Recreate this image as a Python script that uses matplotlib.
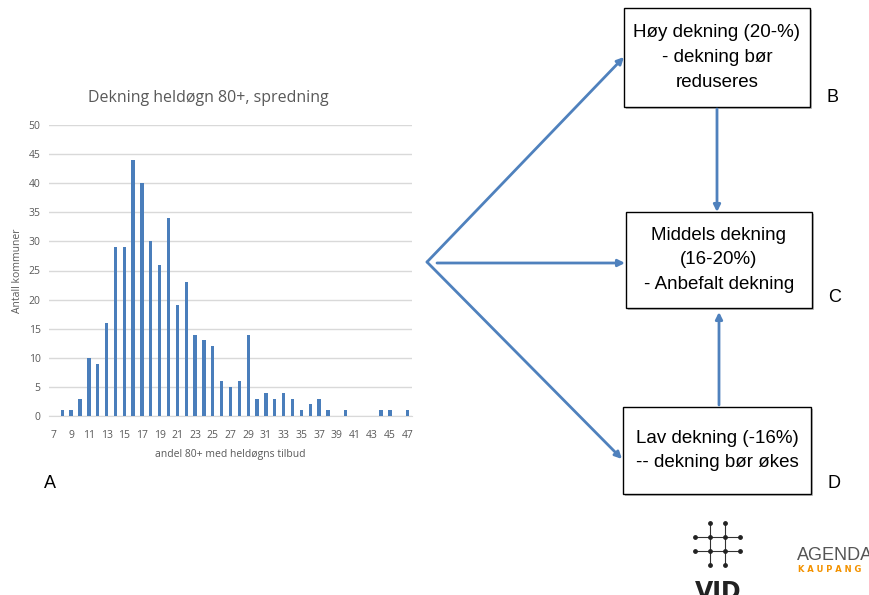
import numpy as np
import matplotlib.pyplot as plt
from matplotlib.patches import Rectangle, FancyArrowPatch

# data: andel 80+ med heldøgns tilbud (%) -> antall kommuner
andel = list(range(7, 48))
antall = [0, 1, 1, 3, 10, 9, 16, 29, 29, 44, 40, 30, 26, 34, 19, 23, 14, 13, 12, 6,
          5, 6, 14, 3, 4, 3, 4, 3, 1, 2, 3, 1, 0, 1, 0, 0, 0, 1, 1, 0, 1]
tick_labels = [str(v) for v in range(7, 48, 2)]

boks_tekst = {
    'B': 'Høy dekning (20-%)\n- dekning bør\nreduseres',
    'C': 'Middels dekning\n(16-20%)\n- Anbefalt dekning',
    'D': 'Lav dekning (-16%)\n-- dekning bør økes',
}

W, H = 870, 595
fig = plt.figure(figsize=(W / 100, H / 100), dpi=100)

# bakgrunn / tegneflate i pikselkoordinater
bg = fig.add_axes([0, 0, 1, 1])
bg.set_xlim(0, W)
bg.set_ylim(H, 0)
bg.axis('off')

# histogram
ax = fig.add_axes([49 / W, (H - 416) / H, 363 / W, 291 / H])
ax.bar(andel, antall, width=0.38, color='#4a7ebb', zorder=3)
ax.set_xlim(6.5, 47.5)
ax.set_ylim(0, 50)
ax.set_yticks(range(0, 51, 5))
ax.set_xticks(range(7, 48, 2))
ax.set_xticklabels(tick_labels)
ax.grid(axis='y', color='#d9d9d9', lw=1, zorder=0)
for s in ['top', 'right', 'left']:
    ax.spines[s].set_visible(False)
ax.spines['bottom'].set_color('#d9d9d9')
ax.tick_params(length=0, labelsize=7.5, colors='#595959')
ax.tick_params(axis='x', pad=10)
ax.tick_params(axis='y', pad=6)
for t in ax.get_xticklabels() + ax.get_yticklabels():
    t.set_family('Open Sans')
bg.text(208, 98, 'Dekning heldøgn 80+, spredning', fontsize=11.5, color='#595959',
        family='Open Sans', ha='center', va='center')
ax.set_xlabel('andel 80+ med heldøgns tilbud', fontsize=7.5, color='#595959',
              family='Open Sans', labelpad=6)
ax.set_ylabel('Antall kommuner', fontsize=7.5, color='#595959',
              family='Open Sans', labelpad=4)

bg.text(50, 483, 'A', fontsize=13, family='Liberation Sans', ha='center', va='center')

# bokser
bokser = {'B': (624, 8, 186, 99), 'C': (626, 212, 186, 96), 'D': (623, 407, 188, 87)}
for key, (x, y, w, h) in bokser.items():
    bg.add_patch(Rectangle((x + 2, y + 2), w, h, facecolor='#bfbfbf', edgecolor='none', zorder=1))
    bg.add_patch(Rectangle((x, y), w, h, facecolor='white', edgecolor='black', lw=1, zorder=2))
    bg.text(x + w / 2, y + h / 2, boks_tekst[key], fontsize=13.5, family='Liberation Sans',
            ha='center', va='center', linespacing=1.6, zorder=3)
    bg.text(x + w + 23, y + h - 10, key, fontsize=13, family='Liberation Sans',
            ha='center', va='center')

# piler
pil_farge = '#4f81bd'
piler = [((427, 262), (624, 57)), ((437, 263), (625, 263)), ((427, 262), (622, 459)),
         ((717, 109), (717, 212)), ((719, 405), (719, 312))]
for start, slutt in piler:
    bg.add_patch(FancyArrowPatch(start, slutt, arrowstyle='-|>', mutation_scale=10,
                                 color=pil_farge, lw=2, shrinkA=0, shrinkB=0, zorder=4))

# VID-logo
for xv in [710, 725]:
    bg.plot([xv, xv], [523, 565], color='#333333', lw=0.8)
for yv in [537, 551]:
    bg.plot([695, 740], [yv, yv], color='#333333', lw=0.8)
pts = [(710, 523), (725, 523), (710, 565), (725, 565), (695, 537), (695, 551),
       (740, 537), (740, 551), (710, 537), (725, 537), (710, 551), (725, 551)]
bg.scatter([p[0] for p in pts], [p[1] for p in pts], s=6, color='#222222', zorder=5)
bg.text(718, 580, 'VID', fontsize=17, fontweight='bold', family='DejaVu Sans',
        ha='center', va='top', color='#222222')

# AGENDA KAUPANG
bg.text(797, 556, 'AGENDA', fontsize=13, family='Liberation Sans', color='#555555',
        ha='left', va='center')
bg.text(798, 570, 'K A U P A N G', fontsize=6, fontweight='bold', family='DejaVu Sans',
        color='#f39200', ha='left', va='center')

fig.savefig('out.png', dpi=100)
